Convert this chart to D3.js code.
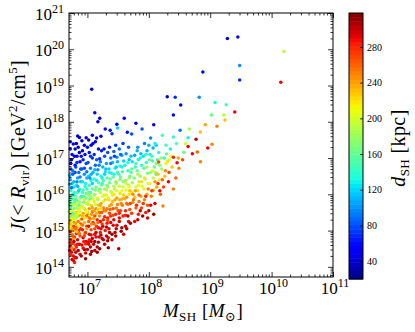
<!DOCTYPE html>
<html>
<head>
<meta charset="utf-8">
<script src="https://cdn.jsdelivr.net/npm/d3@7"></script>
<style>
body { margin: 0; background: white; }
text { font-family: "Liberation Serif", "DejaVu Serif", serif; }
</style>
</head>
<body>
<div class="canvas"></div>
<script>
// decades shown on the axes
var x_decades = [7, 8, 9, 10, 11];
var y_decades = [14, 15, 16, 17, 18, 19, 20, 21];
var cbar_ticks = [40, 80, 120, 160, 200, 240, 280];

// [log10 M_SH, log10 J, d_SH (kpc)]
var outliers = [
	[7.07,18.90,40],[7.12,18.25,45],[7.20,18.10,40],[7.17,18.00,50],[7.29,17.80,60],[7.37,17.77,60],
	[7.40,17.67,70],[7.48,17.93,40],[7.49,17.83,120],[7.60,18.10,50],[7.65,17.71,60],[7.72,17.66,80],
	[7.79,17.96,40],[7.89,17.80,80],[8.08,17.92,50],[8.30,18.69,40],[8.43,18.68,70],[8.40,18.19,60],
	[8.52,18.46,50],[8.51,17.77,90],[8.82,18.68,100],[8.88,19.37,40],[9.28,20.30,40],[9.45,20.34,60],
	[9.48,19.55,100],[9.48,19.15,70],[10.20,19.94,190],[10.15,19.09,290],[9.08,18.53,130],[9.26,18.47,150],
	[9.40,18.27,290],[9.02,18.19,160],[9.22,18.19,190],[9.24,18.05,230],[8.92,17.92,240],[8.66,17.80,185],
	[8.84,17.72,230],[9.11,17.88,250],[8.22,17.63,150],[8.40,17.58,140],[8.64,17.56,130],[8.64,17.32,290],
	[8.77,17.52,300],[9.03,17.38,250],[8.96,17.28,290],[8.71,17.12,290],[8.79,17.17,260],[8.57,17.16,160],
	[8.40,17.02,280],[8.46,16.87,290],[8.49,16.72,250],[8.29,17.11,160],[8.16,16.89,270],[8.28,16.85,210],
	[8.84,16.90,250],[8.40,16.15,250],[8.23,15.68,250],[8.03,15.70,290],[8.08,15.45,310],[7.77,15.25,290],
	[7.51,14.50,310],[7.34,14.53,310],[6.77,14.18,295],[6.80,14.26,290]
];

var subhalos = [
	[6.72,17.25,35],[6.74,16.95,55],[6.73,16.70,70],[6.76,16.55,85],[6.72,16.40,100],[6.75,16.30,115],
	[6.78,16.20,125],[6.73,16.10,135],[6.76,16.00,150],[6.72,15.90,160],[6.78,15.85,170],[6.74,15.75,180],
	[6.77,15.70,190],[6.72,15.62,175],[6.75,15.55,200],[6.79,15.50,215],[6.73,15.45,230],[6.76,15.35,195],
	[6.72,15.28,240],[6.78,15.22,250],[6.74,15.15,225],[6.77,15.05,260],[6.72,14.98,270],[6.75,14.90,255],
	[6.79,14.82,280],[6.73,14.75,290],[6.76,14.65,275],[6.72,14.55,300],[6.78,14.48,285],[6.74,14.40,295],
	[6.77,14.30,290],[6.75,14.20,300],[6.79,14.12,285],[6.80,16.80,60],[6.79,16.05,140],[6.80,15.40,220],
	[6.73,15.95,165],[6.76,16.65,90],[6.74,15.05,240],
	[6.82,17.40,40],[6.85,17.30,45],[6.83,17.05,50],[6.88,16.90,60],[6.81,16.75,75],[6.86,16.60,90],
	[6.84,16.45,105],[6.89,16.35,115],[6.82,16.25,130],[6.87,16.15,140],[6.84,16.05,150],[6.81,15.95,165],
	[6.88,15.90,175],[6.85,15.80,185],[6.82,15.72,200],[6.89,15.65,205],[6.86,15.58,215],[6.83,15.50,230],
	[6.87,15.42,240],[6.81,15.35,220],[6.85,15.25,255],[6.89,15.18,265],[6.83,15.10,250],[6.86,15.00,275],
	[6.82,14.92,285],[6.88,14.85,270],[6.84,14.75,295],[6.87,14.62,300],[6.82,14.55,280],[6.85,14.45,305],
	[6.88,14.35,290],[6.83,15.62,185],[6.86,16.10,120],[6.89,15.30,200],
	[6.92,17.20,40],[6.96,17.10,55],[6.93,16.95,65],[6.98,16.85,75],[6.91,16.70,85],[6.95,16.55,100],
	[6.99,16.45,110],[6.92,16.35,125],[6.96,16.22,140],[6.93,16.12,150],[6.98,16.02,160],[6.91,15.92,175],
	[6.95,15.85,195],[6.99,15.75,205],[6.92,15.68,215],[6.96,15.58,225],[6.93,15.48,240],[6.98,15.40,250],
	[6.91,15.32,265],[6.95,15.22,235],[6.99,15.12,275],[6.92,15.02,285],[6.96,14.92,260],[6.93,14.80,295],
	[6.98,14.70,300],[6.91,14.60,290],[6.95,14.48,310],[6.97,14.38,295],[6.94,15.78,170],[6.97,16.30,130],
	[7.02,17.50,40],[7.06,17.35,50],[7.03,17.15,60],[7.08,17.00,70],[7.01,16.88,80],[7.05,16.72,95],
	[7.09,16.60,110],[7.02,16.50,120],[7.06,16.38,135],[7.03,16.25,145],[7.08,16.15,160],[7.01,16.05,170],
	[7.05,15.95,185],[7.09,15.88,200],[7.02,15.80,210],[7.06,15.70,225],[7.03,15.60,245],[7.08,15.52,255],
	[7.01,15.42,265],[7.05,15.32,240],[7.09,15.22,280],[7.02,15.12,290],[7.06,15.02,270],[7.03,14.90,300],
	[7.08,14.78,305],[7.01,14.68,290],[7.05,14.55,300],[7.07,14.42,310],[7.04,15.88,160],
	[7.13,17.45,45],[7.18,17.25,60],[7.11,17.10,70],[7.15,16.95,85],[7.19,16.80,95],[7.12,16.68,110],
	[7.16,16.55,120],[7.11,16.42,135],[7.18,16.32,150],[7.14,16.20,165],[7.19,16.10,180],[7.12,16.00,195],
	[7.16,15.90,205],[7.11,15.80,215],[7.18,15.70,230],[7.14,15.60,250],[7.19,15.50,260],[7.12,15.40,270],
	[7.16,15.30,280],[7.11,15.18,255],[7.18,15.08,290],[7.14,14.95,300],[7.19,14.82,295],[7.12,14.70,310],
	[7.16,14.55,305],
	[7.22,17.60,45],[7.23,17.20,65],[7.28,17.05,80],[7.21,16.90,95],[7.25,16.75,110],
	[7.29,16.62,125],[7.22,16.50,135],[7.26,16.38,150],[7.23,16.25,170],[7.28,16.15,185],[7.21,16.05,195],
	[7.25,15.95,210],[7.29,15.85,225],[7.22,15.75,240],[7.26,15.62,255],[7.23,15.50,265],[7.28,15.38,280],
	[7.21,15.25,290],[7.25,15.12,300],[7.29,15.00,285],[7.22,14.88,305],[7.26,14.75,300],
	[7.36,17.30,65],[7.33,17.15,80],[7.38,17.00,90],[7.31,16.85,105],[7.35,16.70,120],
	[7.39,16.58,135],[7.32,16.45,150],[7.36,16.32,165],[7.33,16.20,180],[7.38,16.08,195],[7.31,15.98,210],
	[7.35,15.85,225],[7.39,15.72,240],[7.32,15.60,255],[7.36,15.48,270],[7.33,15.35,285],[7.38,15.22,295],
	[7.31,15.10,300],[7.36,14.95,305],[7.34,14.80,290],
	[7.46,17.35,70],[7.43,17.18,85],[7.48,17.02,100],[7.41,16.88,115],[7.45,16.72,130],
	[7.49,16.60,145],[7.42,16.48,160],[7.46,16.35,175],[7.43,16.22,190],[7.48,16.10,205],[7.41,15.98,220],
	[7.45,15.85,235],[7.49,15.72,250],[7.42,15.60,265],[7.46,15.45,280],[7.43,15.30,290],[7.48,15.15,300],
	[7.45,14.95,305],
	[7.58,17.40,75],[7.52,17.25,90],[7.56,17.08,105],[7.59,16.92,120],[7.53,16.78,135],
	[7.57,16.62,150],[7.54,16.48,165],[7.58,16.35,180],[7.52,16.22,195],[7.56,16.10,210],[7.59,15.98,225],
	[7.53,15.85,240],[7.57,15.70,255],[7.54,15.55,270],[7.58,15.40,285],[7.52,15.25,295],[7.56,15.08,305],
	[7.59,14.90,300],
	[7.67,17.30,85],[7.63,17.12,100],[7.68,16.95,115],[7.61,16.80,130],[7.66,16.65,145],
	[7.69,16.50,160],[7.62,16.38,175],[7.67,16.25,190],[7.63,16.12,205],[7.68,16.00,220],[7.61,15.88,235],
	[7.66,15.72,250],[7.69,15.58,265],[7.62,15.42,280],[7.67,15.25,290],[7.64,15.05,305],
	[7.77,17.08,105],[7.73,16.90,125],[7.78,16.75,140],[7.71,16.60,155],
	[7.76,16.45,170],[7.73,16.32,185],[7.79,16.20,200],[7.72,16.05,215],[7.77,15.92,230],[7.74,15.78,245],
	[7.79,15.62,260],[7.72,15.48,275],
	[7.82,17.30,100],[7.87,17.12,115],[7.83,16.95,130],[7.88,16.80,145],[7.81,16.65,160],
	[7.86,16.50,175],[7.84,16.35,190],[7.89,16.22,205],[7.82,16.10,220],[7.87,15.95,240],[7.84,15.80,255],
	[7.88,15.62,270],[7.83,15.45,285],[7.86,15.55,300],
	[7.93,17.40,95],[7.97,17.20,110],[7.91,17.05,125],[7.96,16.88,140],[7.92,16.72,155],[7.98,16.58,170],
	[7.94,16.42,185],[7.99,16.30,200],[7.92,16.15,215],[7.97,16.00,235],[7.93,15.85,250],[7.98,15.70,265],
	[7.95,15.50,285],
	[8.03,17.55,95],[8.07,17.28,110],[8.02,17.10,130],[8.06,16.92,145],[8.09,16.75,160],[8.03,16.60,175],
	[8.07,16.45,195],[8.02,16.30,210],[8.08,16.12,230],[8.04,15.95,250],
	[8.12,17.35,120],[8.16,17.15,135],[8.14,16.95,150],[8.18,16.80,170],[8.11,16.60,190],[8.17,16.40,215],
	[8.13,16.20,240],[8.19,16.00,260],[8.12,16.55,150],[8.15,16.30,280],
	[8.25,17.00,140],[8.21,16.70,180],[8.26,16.50,230],[8.24,16.20,270],[8.27,16.65,250],
	[8.35,17.25,130],[8.45,17.40,150],[8.33,16.95,200],[8.38,16.75,230],[8.44,16.45,260],
	[6.84,17.61,40],[6.87,17.57,45],[6.77,17.39,40],[6.91,17.48,45],[6.98,17.56,50],[7.08,17.63,45]
];

// second pass over the crowded part of the cloud, where colours mix
var subhalos_mixed = [
	[6.71,16.52,110],[6.74,16.18,90],[6.77,15.98,130],[6.71,15.81,145],[6.73,15.66,150],[6.78,15.60,170],
	[6.76,15.47,140],[6.72,15.38,175],[6.80,15.31,205],[6.75,15.19,190],[6.71,15.09,215],[6.79,15.01,235],
	[6.74,14.87,225],[6.77,14.78,245],[6.72,14.68,260],[6.80,14.60,270],[6.75,14.52,250],[6.73,14.34,280],
	[6.81,14.40,300],[6.78,14.70,300],[6.83,14.97,230],[6.86,15.14,210],[6.81,15.20,240],[6.84,15.38,180],
	[6.88,15.52,200],[6.82,15.85,150],[6.86,15.70,160],[6.90,15.95,140],[6.84,16.22,110],[6.88,16.48,95],
	[6.80,16.60,80],[6.79,17.05,45],[6.83,16.88,70],[6.87,17.15,40],
	[6.93,14.52,290],[6.97,14.63,280],[7.00,14.48,300],[7.03,14.75,285],[6.95,14.85,270],[7.06,14.88,290],
	[6.92,15.15,255],[6.99,15.05,240],[7.02,15.25,260],[7.07,15.18,250],[6.96,15.35,220],[7.00,15.50,230],
	[7.04,15.42,210],[6.94,15.62,200],[7.08,15.63,240],[6.98,15.90,170],[7.01,15.72,185],[7.05,16.05,150],
	[6.92,16.05,145],[7.08,16.30,120],[6.99,16.62,90],[7.04,16.45,100],
	[7.10,14.62,300],[7.14,14.82,290],[7.18,14.68,300],[7.21,14.95,285],[7.12,15.05,270],[7.17,15.22,260],
	[7.24,15.18,275],[7.10,15.33,240],[7.15,15.48,235],[7.20,15.40,250],[7.27,15.55,255],[7.13,15.72,200],
	[7.22,15.62,220],[7.17,15.85,190],[7.26,15.80,200],[7.11,15.98,175],[7.20,16.15,160],[7.15,16.38,130],
	[7.24,16.30,140],[7.28,16.55,120],[7.13,16.80,85],[7.20,16.98,70],[7.27,17.25,55],
	[7.31,14.85,300],[7.35,15.05,295],[7.40,14.90,310],[7.33,15.28,270],[7.38,15.40,280],[7.42,15.15,290],
	[7.30,15.55,250],[7.36,15.68,240],[7.41,15.80,230],[7.34,15.90,215],[7.39,16.05,200],[7.44,16.15,185],
	[7.32,16.25,170],[7.37,16.42,155],[7.43,16.55,135],[7.30,16.70,115],[7.38,16.85,95],[7.44,17.05,75],
	[7.47,15.05,300],[7.52,15.35,290],[7.50,15.55,270],[7.55,15.75,250],[7.48,15.90,240],[7.53,16.02,220],
	[7.58,16.20,200],[7.47,16.30,180],[7.51,16.55,150],[7.56,16.75,130],[7.49,16.90,110],[7.54,17.10,90],
	[7.62,15.55,280],[7.66,15.40,300],[7.70,15.75,270],[7.64,15.92,245],[7.69,16.10,230],[7.74,16.00,250],
	[7.63,16.30,200],[7.68,16.45,180],[7.72,16.70,160],[7.66,16.88,140],[7.71,17.05,115],
	[7.80,15.70,280],[7.84,15.98,260],[7.78,16.10,240],[7.88,16.35,220],[7.82,16.55,190],[7.79,16.85,150],
	[7.86,17.00,130],[7.81,17.20,110],
	[7.95,15.95,280],[7.99,16.15,250],[7.93,16.45,220],[7.97,16.75,180],[8.01,16.95,160],[7.95,17.10,140],
	[8.00,17.35,110],
	[8.05,16.10,275],[8.10,16.35,245],[8.06,16.65,205],[8.12,16.85,175],[8.05,17.05,150],[8.10,17.40,130],
	[8.15,16.55,230],[8.18,16.10,290],[8.20,17.00,180],[8.22,16.40,260],[8.30,16.90,220],[8.33,16.60,270],
	[8.36,17.05,210],[8.28,17.35,150],[8.32,16.35,290],[8.48,17.00,240],[8.55,16.95,270],[8.60,17.40,200],
	[6.90,14.30,305],[6.97,14.22,310],[7.05,14.35,305],[7.12,14.45,300],[7.20,14.50,310],[7.28,14.62,305],
	[7.16,14.40,310],[7.24,14.78,300],[7.33,14.72,310],[7.40,14.75,300],[7.46,14.85,305],[7.55,14.98,310],
	[7.62,15.12,300],[7.70,15.20,305],[7.82,15.30,300],[7.90,15.40,310],[7.98,15.35,300],[8.00,15.55,305],
	[8.10,15.75,300],
	[6.75,17.10,60],[6.72,17.45,40],[6.80,17.25,50],[6.95,17.35,45],[7.00,17.30,60],[7.09,17.40,50],
	[7.15,17.55,45],[7.05,17.05,75],[6.90,17.05,60],
	[6.71,14.45,290],[6.73,14.62,280],[6.76,14.85,265],[6.71,15.20,230],[6.78,15.12,270],[6.70,15.52,190],
	[6.74,15.30,215],[6.77,15.42,170],[6.71,15.72,165],[6.79,15.78,160],[6.75,15.88,145],[6.78,16.35,110],
	[6.71,16.28,120],[6.73,16.85,60],
	[6.82,14.25,300],[6.84,14.62,290],[6.87,14.92,255],[6.81,15.05,260],[6.89,15.05,280],[6.85,15.48,210],
	[6.82,15.42,195],[6.87,15.78,180],[6.83,16.35,100],[6.89,16.70,80],
	[6.94,14.70,285],[6.97,14.95,275],[6.92,15.40,230],[6.98,15.52,210],[6.94,15.95,155],[6.99,16.15,135],
	[6.95,16.72,80],
	[7.02,14.62,295],[7.06,14.70,300],[7.03,15.35,255],[7.07,15.45,245],[7.02,15.98,180],[7.06,16.55,110],
	[7.12,14.90,290],[7.15,15.12,275],[7.11,15.55,240],[7.17,15.58,225],[7.13,16.12,170],[7.17,16.68,100],
	[7.22,15.05,290],[7.26,15.30,280],[7.21,15.70,235],[7.27,15.98,200],[7.24,16.45,130],
	[7.32,15.20,285],[7.37,15.58,260],[7.31,16.12,190],[7.36,16.60,130],
	[7.42,15.42,270],[7.47,15.62,255],[7.43,16.00,215],[7.47,16.75,120],
	[7.52,15.48,280],[7.57,15.88,235],[7.53,16.40,170],[7.64,15.75,260],[7.68,16.20,210],[7.75,15.85,255],
	[7.83,16.25,210],[7.91,15.75,275]
];

var W = 415, H = 332;
var left = 69, right = 333, top_ = 13, bottom = 277;
var cb_left = 349, cb_right = 363, cb_top = 13, cb_bottom = 279;
var d_min = 20, d_max = 318;

var svg = d3.select("div.canvas").append("svg").attr("width", W).attr("height", H);

var x = d3.scaleLog().domain([Math.pow(10, 6.7), 1e11]).range([left, right]);
var y = d3.scaleLog().domain([Math.pow(10, 13.72), 1e21]).range([bottom, top_]);

// matplotlib "jet"
var jet_r = d3.scaleLinear().domain([0, 0.35, 0.66, 0.89, 1]).range([0, 0, 1, 1, 0.5]).clamp(true);
var jet_g = d3.scaleLinear().domain([0, 0.125, 0.375, 0.64, 0.91, 1]).range([0, 0, 1, 1, 0, 0]).clamp(true);
var jet_b = d3.scaleLinear().domain([0, 0.11, 0.34, 0.65, 1]).range([0.5, 1, 1, 0, 0]).clamp(true);
var to_t = d3.scaleLinear().domain([d_min, d_max]).clamp(true);
function jet(d) {
	var t = to_t(d);
	return d3.rgb(255 * jet_r(t), 255 * jet_g(t), 255 * jet_b(t)).toString();
}

function minor_values(lo, hi) {
	var vals = [];
	for (var e = lo; e < hi; ++e) {
		for (var k = 2; k <= 9; ++k) vals.push(k * Math.pow(10, e));
	}
	return vals;
}

var x_major = x_decades.map(function(e) { return Math.pow(10, e); });
var y_major = y_decades.map(function(e) { return Math.pow(10, e); });
var x_minor = minor_values(6, 11).filter(function(v) { return v >= x.domain()[0] && v <= x.domain()[1]; });
var y_minor = minor_values(13, 21).filter(function(v) { return v >= y.domain()[0] && v <= y.domain()[1]; });

// points
var plot = svg.append("g");
plot.selectAll("circle.sh")
	.data(subhalos.concat(subhalos_mixed, outliers))
	.enter().append("circle")
	.attr("class", "sh")
	.attr("cx", function(d) { return x(Math.pow(10, d[0])); })
	.attr("cy", function(d) { return y(Math.pow(10, d[1])); })
	.attr("r", 1.75)
	.attr("fill", function(d) { return jet(d[2]); });

function draw_axis(axis_fn, scale, vals, size, transform) {
	var g = svg.append("g").attr("transform", transform)
		.call(axis_fn(scale).tickValues(vals).tickSize(size).tickFormat(""));
	g.select(".domain").remove();
	g.selectAll("line").attr("stroke", "black").attr("stroke-width", 0.8);
	return g;
}

draw_axis(d3.axisBottom, x, x_minor, -2.5, "translate(0," + bottom + ")");
draw_axis(d3.axisTop, x, x_minor, -2.5, "translate(0," + top_ + ")");
draw_axis(d3.axisLeft, y, y_minor, -2.5, "translate(" + left + ",0)");
draw_axis(d3.axisRight, y, y_minor, -2.5, "translate(" + right + ",0)");
draw_axis(d3.axisBottom, x, x_major, -5, "translate(0," + bottom + ")");
draw_axis(d3.axisTop, x, x_major, -5, "translate(0," + top_ + ")");
draw_axis(d3.axisLeft, y, y_major, -5, "translate(" + left + ",0)");
draw_axis(d3.axisRight, y, y_major, -5, "translate(" + right + ",0)");

svg.append("rect").attr("x", left).attr("y", top_)
	.attr("width", right - left).attr("height", bottom - top_)
	.attr("fill", "none").attr("stroke", "black").attr("stroke-width", 1);

function power_label(sel, e) {
	sel.append("tspan").text("10");
	sel.append("tspan").attr("dy", -7).attr("font-size", 12).text(e);
}

x_decades.forEach(function(e) {
	var t = svg.append("text").attr("x", x(Math.pow(10, e)) + 2).attr("y", bottom + 17)
		.attr("text-anchor", "middle").attr("font-size", 17);
	power_label(t, e);
});
y_decades.forEach(function(e) {
	var t = svg.append("text").attr("x", left - 5).attr("y", y(Math.pow(10, e)) + 7)
		.attr("text-anchor", "end").attr("font-size", 17);
	power_label(t, e);
});

// axis titles
var xl = svg.append("text").attr("x", (left + right) / 2 + 2).attr("y", 317)
	.attr("text-anchor", "middle").attr("font-size", 19).attr("letter-spacing", 0.5);
xl.append("tspan").attr("font-style", "italic").text("M");
xl.append("tspan").attr("font-size", 13).attr("dy", 4).text("SH");
xl.append("tspan").attr("dy", -4).text(" [");
xl.append("tspan").attr("font-style", "italic").text("M");
xl.append("tspan").attr("font-size", 13).attr("dy", 4).text("\u2299");
xl.append("tspan").attr("dy", -4).text("]");

var yl = svg.append("text").attr("transform", "translate(25," + ((top_ + bottom) / 2 + 1) + ") rotate(-90)")
	.attr("text-anchor", "middle").attr("font-size", 20).attr("letter-spacing", 0.4);
yl.append("tspan").attr("font-style", "italic").text("J");
yl.append("tspan").text("(< ");
yl.append("tspan").attr("font-style", "italic").text("R");
yl.append("tspan").attr("font-size", 13).attr("dy", 4).text("vir");
yl.append("tspan").attr("dy", -4).text(") [GeV");
yl.append("tspan").attr("font-size", 13).attr("dy", -8).text("2");
yl.append("tspan").attr("dy", 8).text("/cm");
yl.append("tspan").attr("font-size", 13).attr("dy", -8).text("5");
yl.append("tspan").attr("dy", 8).text("]");

// colorbar
var c = d3.scaleLinear().domain([d_min, d_max]).range([cb_bottom, cb_top]);
var n_steps = 64;
var steps = d3.range(n_steps);
var step_h = (cb_bottom - cb_top) / n_steps;
svg.append("g").selectAll("rect")
	.data(steps).enter().append("rect")
	.attr("x", cb_left).attr("width", cb_right - cb_left)
	.attr("y", function(i) { return c(d_min + (i + 1) * (d_max - d_min) / n_steps); })
	.attr("height", step_h + 0.5)
	.attr("fill", function(i) { return jet(d_min + (i + 0.5) * (d_max - d_min) / n_steps); });

var cg = svg.append("g").attr("transform", "translate(" + cb_right + ",0)")
	.call(d3.axisRight(c).tickValues(cbar_ticks).tickSize(-3).tickPadding(4));
cg.select(".domain").remove();
cg.selectAll("line").attr("stroke", "black").attr("stroke-width", 0.8);
cg.selectAll("text").attr("font-family", "Liberation Serif").attr("font-size", 10).attr("fill", "black");

svg.append("rect").attr("x", cb_left).attr("y", cb_top)
	.attr("width", cb_right - cb_left).attr("height", cb_bottom - cb_top)
	.attr("fill", "none").attr("stroke", "black").attr("stroke-width", 1);

var cl = svg.append("text").attr("transform", "translate(405," + ((cb_top + cb_bottom) / 2 + 2) + ") rotate(-90)")
	.attr("text-anchor", "middle").attr("font-size", 20).attr("letter-spacing", 0.4);
cl.append("tspan").attr("font-style", "italic").text("d");
cl.append("tspan").attr("font-size", 13).attr("dy", 4).text("SH");
cl.append("tspan").attr("dy", -4).text(" [kpc]");
</script>
</body>
</html>
